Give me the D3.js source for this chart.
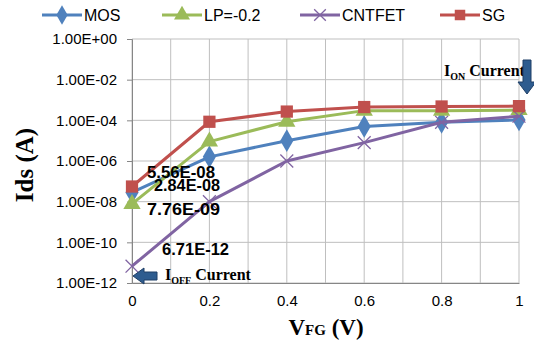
<!DOCTYPE html>
<html>
<head>
<meta charset="utf-8">
<script src="https://cdn.jsdelivr.net/npm/d3@7"></script>
<style>
  body { margin: 0; background: #fff; }
  svg { display: block; }
</style>
</head>
<body>
<div id="chart"></div>
<script>
"use strict"

/* chart data */
let vfg = [0, 0.2, 0.4, 0.6, 0.8, 1];
let mosValues = [2.84e-8, 1.6e-6, 1.0e-5, 5.0e-5, 8.0e-5, 1.05e-4];
let lpValues = [7.76e-9, 9.0e-6, 8.5e-5, 3.0e-4, 3.0e-4, 3.2e-4];
let cntfetValues = [6.71e-12, 1.0e-8, 1.0e-6, 8.0e-6, 8.0e-5, 1.6e-4];
let sgValues = [5.56e-8, 8.5e-5, 2.7e-4, 4.5e-4, 4.8e-4, 5.0e-4];
let seriesNames = ["MOS", "LP=-0.2", "CNTFET", "SG"];
let xTickLabels = ["0", "0.2", "0.4", "0.6", "0.8", "1"];
let yTickValues = [1, 1e-2, 1e-4, 1e-6, 1e-8, 1e-10, 1e-12];
let yTickLabels = ["1.00E+00", "1.00E-02", "1.00E-04", "1.00E-06", "1.00E-08", "1.00E-10", "1.00E-12"];
let offLabels = ["5.56E-08", "2.84E-08", "7.76E-09", "6.71E-12"];

let colors = ["#4F81BD", "#9BBB59", "#8064A2", "#C0504D"];
let symbols = [d3.symbolDiamond, d3.symbolTriangle, d3.symbolTimes, d3.symbolSquare];
let allValues = [mosValues, lpValues, cntfetValues, sgValues];

/* set up the drawing canvas */
let drawing = d3.select("#chart")
    .append("svg")
    .attr("width", 534)
    .attr("height", 343);

let x = d3.scaleLinear().domain([0, 1]).range([132, 519]);
let y = d3.scaleLog().domain([1e-12, 1]).range([283, 39]);

/* gridlines */
let gridX = d3.range(0, 11).map(d => d / 10);
drawing.append("g")
    .selectAll("line")
    .data(gridX)
    .join("line")
    .attr("x1", d => x(d))
    .attr("x2", d => x(d))
    .attr("y1", y(1))
    .attr("y2", y(1e-12))
    .attr("stroke", "#BFBFBF")
    .attr("stroke-width", 1);

drawing.append("g")
    .selectAll("line")
    .data(yTickValues)
    .join("line")
    .attr("x1", x(0))
    .attr("x2", x(1))
    .attr("y1", d => y(d))
    .attr("y2", d => y(d))
    .attr("stroke", "#BFBFBF")
    .attr("stroke-width", 1);

/* axes */
let yAxis = drawing.append("g")
    .attr("transform", "translate(" + x(0) + ",0)")
    .call(d3.axisLeft(y)
        .tickValues(yTickValues)
        .tickSize(5)
        .tickPadding(10)
        .tickFormat((d, i) => yTickLabels[i]));

let xAxis = drawing.append("g")
    .attr("transform", "translate(0," + y(1e-12) + ")")
    .call(d3.axisBottom(x)
        .tickValues(vfg)
        .tickSize(0)
        .tickPadding(12)
        .tickFormat((d, i) => xTickLabels[i]));

drawing.selectAll(".domain").attr("stroke", "#868686");
drawing.selectAll(".tick line").attr("stroke", "#868686");
drawing.selectAll(".tick text")
    .attr("font-family", "Liberation Sans, Arial, sans-serif")
    .attr("font-size", 15)
    .attr("fill", "#000");

/* series lines and markers */
let line = d3.line()
    .x((d, i) => x(vfg[i]))
    .y(d => y(d));

allValues.forEach(function (vals, s) {
    drawing.append("path")
        .datum(vals)
        .attr("d", line)
        .attr("fill", "none")
        .attr("stroke", colors[s])
        .attr("stroke-width", 3)
        .attr("stroke-linejoin", "round");

    let sym = d3.symbol().type(symbols[s]).size(s == 2 ? 110 : (s == 1 ? 130 : 150));
    drawing.append("g")
        .selectAll("path")
        .data(vals)
        .join("path")
        .attr("d", sym)
        .attr("transform", (d, i) => "translate(" + x(vfg[i]) + "," + y(d) + ")")
        .attr("fill", s == 2 ? "none" : colors[s])
        .attr("stroke", colors[s])
        .attr("stroke-width", s == 2 ? 1.3 : 0);
});

/* OFF value labels */
let labelPos = [[147, 178, 68], [154, 191, 66], [147, 215, 73], [162, 255, 67]];
drawing.append("g")
    .selectAll("text")
    .data(offLabels)
    .join("text")
    .attr("x", (d, i) => labelPos[i][0])
    .attr("y", (d, i) => labelPos[i][1])
    .attr("textLength", (d, i) => labelPos[i][2])
    .attr("lengthAdjust", "spacingAndGlyphs")
    .attr("font-family", "Liberation Sans, Arial, sans-serif")
    .attr("font-weight", "bold")
    .attr("font-size", 16)
    .attr("fill", "#000")
    .text(d => d);

/* legend */
let legendX = [42, 162, 300, 440];
seriesNames.forEach(function (name, s) {
    let g = drawing.append("g").attr("transform", "translate(" + legendX[s] + ",15)");
    g.append("line")
        .attr("x1", 0).attr("x2", 40)
        .attr("stroke", colors[s])
        .attr("stroke-width", 3);
    g.append("path")
        .attr("d", d3.symbol().type(symbols[s]).size(s == 2 ? 90 : 110))
        .attr("transform", "translate(20,0)")
        .attr("fill", s == 2 ? "none" : colors[s])
        .attr("stroke", colors[s])
        .attr("stroke-width", s == 2 ? 1.3 : 0);
    g.append("text")
        .attr("x", 42)
        .attr("y", 6)
        .attr("font-family", "Liberation Sans, Arial, sans-serif")
        .attr("font-size", 16)
        .attr("fill", "#000")
        .text(name);
});

/* axis titles */
drawing.append("text")
    .attr("transform", "translate(33,165) rotate(-90)")
    .attr("text-anchor", "middle")
    .attr("font-family", "Liberation Serif, Times New Roman, serif")
    .attr("font-weight", "bold")
    .attr("font-size", 25)
    .attr("fill", "#000")
    .text("Ids (A)");

let xTitle = drawing.append("text")
    .attr("x", 326)
    .attr("y", 335)
    .attr("text-anchor", "middle")
    .attr("font-family", "Liberation Serif, Times New Roman, serif")
    .attr("font-weight", "bold")
    .attr("fill", "#000");
xTitle.append("tspan").attr("font-size", 23).text("V");
xTitle.append("tspan").attr("font-size", 15).text("FG");
xTitle.append("tspan").attr("font-size", 23).text(" (V)");

/* ON / OFF current annotations */
let onText = drawing.append("text")
    .attr("x", 444)
    .attr("y", 76)
    .attr("font-family", "Liberation Serif, Times New Roman, serif")
    .attr("font-weight", "bold")
    .attr("fill", "#000");
onText.append("tspan").attr("font-size", 16).text("I");
onText.append("tspan").attr("font-size", 10).attr("dy", 4).text("ON");
onText.append("tspan").attr("font-size", 16).attr("dy", -4).text(" Current");

let offText = drawing.append("text")
    .attr("x", 165)
    .attr("y", 280)
    .attr("font-family", "Liberation Serif, Times New Roman, serif")
    .attr("font-weight", "bold")
    .attr("fill", "#000");
offText.append("tspan").attr("font-size", 16).text("I");
offText.append("tspan").attr("font-size", 10).attr("dy", 4).text("OFF");
offText.append("tspan").attr("font-size", 16).attr("dy", -4).text(" Current");

/* arrows */
drawing.append("path")
    .attr("d", "M523,60 L531,60 L531,82 L536,82 L527,94 L518,82 L523,82 Z")
    .attr("fill", "#2E5C8F")
    .attr("stroke", "#1F3F66")
    .attr("stroke-width", 1);

drawing.append("path")
    .attr("d", "M157,272 L144,272 L144,268 L133,276 L144,284 L144,280 L157,280 Z")
    .attr("fill", "#2E5C8F")
    .attr("stroke", "#1F3F66")
    .attr("stroke-width", 1);
</script>
</body>
</html>
